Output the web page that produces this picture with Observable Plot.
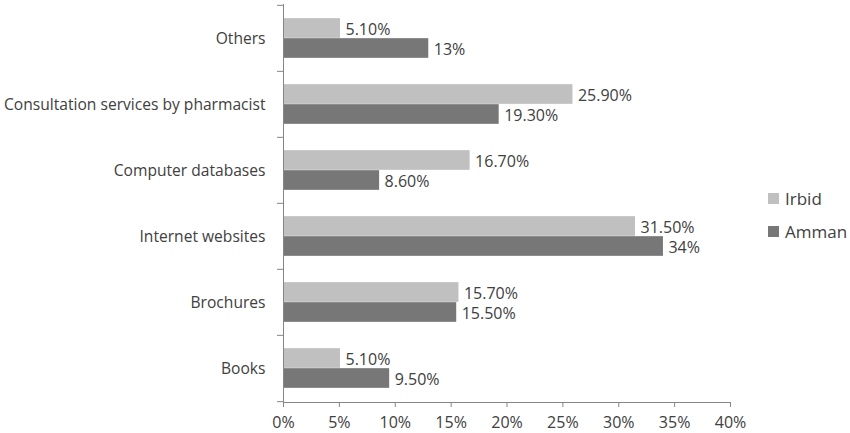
<!DOCTYPE html>
<html><head><meta charset="utf-8">
<script src="https://cdn.jsdelivr.net/npm/d3@7"></script>
<script src="https://cdn.jsdelivr.net/npm/@observablehq/plot@0.6"></script>
<style>
body{margin:0;background:#fff;}
#wrap{position:relative;width:850px;height:433px;font-family:"Open Sans",sans-serif;}
.leg{position:absolute;left:768px;font-size:17px;color:#404040;display:flex;align-items:center;height:20px;}
.leg span.sw{display:inline-block;width:11px;height:11px;margin-right:6px;}
</style></head>
<body><div id="wrap"></div>
<script>
const categories = ["Others","Consultation services by pharmacist","Computer databases","Internet websites","Brochures","Books"];
const series = ["Irbid","Amman"];
const irbid = [5.1, 25.9, 16.7, 31.5, 15.7, 5.1];
const amman = [13, 19.3, 8.6, 34, 15.5, 9.5];
const xTicks = [0,5,10,15,20,25,30,35,40];
const colors = {Irbid:"#c0c0c0", Amman:"#777777"};

const fmt = v => Number.isInteger(v) ? v + "%" : v.toFixed(2) + "%";
const rows = [];
categories.forEach((c,i)=>{
  rows.push({cat:c, series:"Irbid", value:irbid[i]});
  rows.push({cat:c, series:"Amman", value:amman[i]});
});
const W=850,H=433,mt=4,mb=31;
const band=(H-mt-mb)/categories.length;
const barH=20, outer=(band-2*barH)/2;
const irbidRows = rows.filter(d=>d.series==="Irbid");
const ammanRows = rows.filter(d=>d.series==="Amman");
const axisColor="#868686", textColor="#404040";

const chart = Plot.plot({
  width:W, height:H,
  marginLeft:283, marginRight:120, marginTop:mt, marginBottom:mb,
  style:{fontFamily:"Open Sans, sans-serif", fontSize:"16px", color:textColor, background:"#fff", overflow:"visible"},
  x:{domain:[0,40]},
  y:{domain:categories, padding:0},
  marks:[
    Plot.barX(irbidRows,{x:"value", y:"cat", fill:colors.Irbid, insetTop:outer, insetBottom:outer+barH}),
    Plot.barX(ammanRows,{x:"value", y:"cat", fill:colors.Amman, insetTop:outer+barH, insetBottom:outer}),
    Plot.text(irbidRows,{x:"value", y:"cat", text:d=>fmt(d.value), dx:5, dy:-barH/2+1, textAnchor:"start", fill:textColor, fontSize:16}),
    Plot.text(ammanRows,{x:"value", y:"cat", text:d=>fmt(d.value), dx:5, dy:barH/2+1, textAnchor:"start", fill:textColor, fontSize:16}),
    Plot.ruleX([0],{stroke:axisColor}),
    Plot.axisY({tickSize:0, tickPadding:18, label:null, fill:textColor, fontSize:15.6}),
    Plot.axisY({tickSize:6, tickFormat:()=>"", dy:-band/2, stroke:axisColor, label:null}),
    Plot.axisY([categories[categories.length-1]],{tickSize:6, tickFormat:()=>"", dy:band/2, stroke:axisColor, label:null}),
    Plot.frame({anchor:"bottom", stroke:axisColor}),
    Plot.axisX(xTicks,{tickSize:5, tickPadding:9, tickFormat:d=>d+"%", stroke:axisColor, fill:textColor, label:null, fontSize:16})
  ]
});
const wrap=document.getElementById("wrap");
wrap.appendChild(chart);
series.forEach((s,i)=>{
  const d=document.createElement("div");
  d.className="leg";
  d.style.top=(188+i*33)+"px";
  d.innerHTML=`<span class="sw" style="background:${colors[s]}"></span>${s}`;
  wrap.appendChild(d);
});
</script></body></html>
